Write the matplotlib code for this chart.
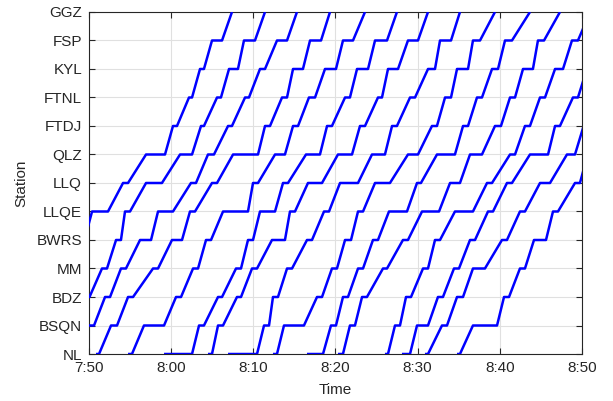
import numpy as np
import matplotlib
matplotlib.use("Agg")
import matplotlib.pyplot as plt

# stations from bottom (index 0) to top (index 12)
stations = ["NL", "BSQN", "BDZ", "MM", "BWRS", "LLQE", "LLQ",
            "QLZ", "FTDJ", "FTNL", "KYL", "FSP", "GGZ"]

time_ticks = [0, 10, 20, 30, 40, 50, 60]          # minutes after 7:50
time_labels = ["7:50", "8:00", "8:10", "8:20", "8:30", "8:40", "8:50"]

# first station of each train (index into stations)
start_station = [4, 2, 0, 0, 0, 0, 0, 0, 0, 0, 0, 0, 0, 0, 0]

# arrival / departure times (minutes after 7:50), station by station
train_A = [-1.1, -0.55, 0.37, 2.31, 4.14, 4.75, 6.94, 9.25, 10.22, 10.71, 12.17, 12.54,
           13.51, 13.99, 14.97, 16.19, 17.40]
train_B = [-1.0, 0.06, 1.58, 2.19, 3.29, 3.89, 4.38, 4.99, 6.94, 8.88, 11.08, 12.54,
           13.63, 13.99, 15.58, 16.06, 17.04, 18.13, 18.86, 20.20, 21.42]
train_C = [-2.5, -1.6, -0.5, 0.61, 1.95, 2.56, 3.89, 4.50, 6.21, 7.55, 8.40, 10.22,
           12.41, 13.02, 14.48, 15.21, 16.92, 17.40, 18.99, 19.47, 20.81, 21.42,
           22.88, 24.10, 25.31]
train_D = [0.85, 1.22, 2.68, 3.41, 4.75, 5.36, 7.79, 8.40, 10.10, 11.32, 12.29, 12.90,
           14.97, 15.58, 17.53, 20.57, 21.42, 22.03, 23.49, 24.10, 24.83, 26.04,
           26.90, 28.24, 29.33]
train_E = [4.75, 5.23, 6.69, 9.13, 10.59, 11.20, 12.66, 13.27, 14.24, 14.85, 16.31, 19.35,
           19.96, 20.57, 22.64, 23.85, 24.83, 25.44, 26.77, 27.51, 28.72, 30.06,
           30.91, 32.13, 33.59]
train_F = [9.13, 12.54, 13.39, 13.99, 15.70, 16.19, 17.89, 18.50, 19.35, 19.96, 20.81, 22.64,
           23.61, 24.22, 26.41, 28.11, 28.97, 29.57, 31.16, 31.76, 32.62, 33.96,
           34.81, 36.27, 37.48]
train_G = [14.48, 14.97, 15.70, 16.31, 18.01, 18.50, 19.84, 20.45, 22.27, 23.85, 24.46, 25.07,
           26.65, 28.36, 30.30, 32.01, 32.98, 33.59, 35.17, 35.66, 36.39, 37.61,
           38.82, 40.04, 41.26]
train_H = [16.92, 20.45, 21.30, 21.91, 22.39, 23.00, 24.10, 24.71, 26.53, 27.14, 28.60, 29.21,
           30.55, 32.74, 34.44, 36.02, 36.88, 37.48, 39.07, 39.68, 41.26, 42.11,
           42.72, 44.06, 45.15]
train_I = [22.39, 22.88, 23.73, 26.16, 27.75, 28.36, 29.57, 30.18, 31.16, 31.89, 32.74, 33.35,
           34.81, 36.63, 38.82, 40.04, 41.74, 42.35, 43.33, 44.06, 44.79, 46.13,
           46.73, 47.59, 49.41]
train_J = [26.53, 28.48, 29.45, 30.06, 30.91, 31.52, 32.74, 33.35, 34.56, 35.17, 36.51, 38.70,
           39.92, 40.40, 42.35, 44.54, 45.52, 46.13, 47.22, 47.83, 49.05, 49.78,
           50.63, 51.48, 53.67]
train_K = [30.30, 30.91, 31.76, 32.37, 33.23, 33.83, 35.78, 36.27, 38.21, 38.82, 40.53, 42.60,
           43.94, 45.15, 46.37, 47.83, 49.41, 50.14, 51.24, 51.85, 52.82, 54.03,
           54.64, 55.38, 57.32]
train_L = [36.02, 36.39, 37.24, 37.85, 38.58, 39.19, 40.65, 41.26, 42.11, 42.72, 44.54, 46.73,
           48.44, 49.05, 51.24, 51.85, 53.06, 53.67, 54.89, 55.50, 56.72, 57.69,
           58.78, 59.51, 61.0]
train_M = [38.09, 39.07, 39.92, 41.26, 42.47, 43.08, 44.42, 45.03, 46.37, 46.98, 48.56, 49.17,
           50.87, 51.48, 53.67, 55.87, 56.72, 57.32, 58.90, 59.51, 60.6]
train_N = [40.89, 41.26, 42.96, 43.57, 44.79, 45.52, 46.73, 48.19, 50.26, 50.87, 52.45, 53.06,
           54.89, 56.11, 58.17, 59.15, 60.2]
train_O = [44.79, 45.15, 46.73, 49.66, 50.51, 51.12, 52.45, 53.06, 54.16, 55.62, 56.47, 57.08,
           59.15, 59.75, 60.7]

trains = [train_A, train_B, train_C, train_D, train_E, train_F, train_G, train_H,
          train_I, train_J, train_K, train_L, train_M, train_N, train_O]

plt.rcParams['font.family'] = ['Liberation Sans', 'DejaVu Sans']

fig = plt.figure(figsize=(6.13, 4.01), dpi=100)
ax = fig.add_axes([0.1452, 0.1172, 0.8042, 0.8529])

for s0, times in zip(start_station, trains):
    st = [s0 + i // 2 for i in range(len(times))]
    ax.plot(times, st, color=(0, 0, 1), lw=1.8, zorder=3, solid_capstyle='butt')

ax.set_xlim(0, 60)
ax.set_ylim(0, len(stations) - 1)
ax.set_xticks(time_ticks)
ax.set_xticklabels(time_labels)
ax.set_yticks(range(len(stations)))
ax.set_yticklabels(stations)

ax.grid(True, color=(0.88, 0.88, 0.88), lw=0.8)
ax.set_axisbelow(True)
for sp in ax.spines.values():
    sp.set_color((0.15, 0.15, 0.15))
    sp.set_linewidth(0.8)
ax.tick_params(direction='in', length=4, width=0.8, top=True, right=True,
               colors=(0.15, 0.15, 0.15), labelsize=11, pad=5)
for lab in ax.get_xticklabels() + ax.get_yticklabels():
    lab.set_color((0.15, 0.15, 0.15))

ax.set_xlabel("Time", fontsize=11, color=(0.15, 0.15, 0.15), labelpad=6)
ax.set_ylabel("Station", fontsize=11, color=(0.15, 0.15, 0.15), labelpad=6)

fig.savefig("out.png", dpi=100)
